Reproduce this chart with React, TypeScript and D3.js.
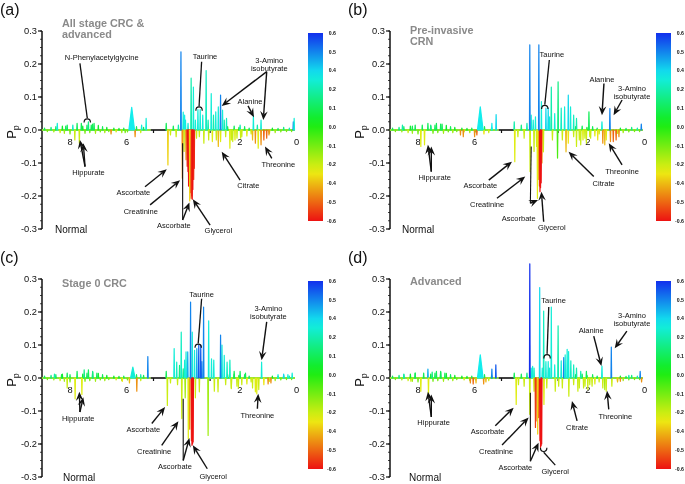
import * as d3 from "d3";

// [ppm, loading (Pp), correlation, half width in ppm (optional)]
type Peak = [number, number, number, number?];
type Mark = [number, number, number, number, string];
type Note = { text: string[]; at: [number, number]; marks: Mark[] };

const ppmTicks = [8, 6, 2, 0];
const ppmSmallTicks = [5, 3];
const loadingTicks = [0.3, 0.2, 0.1, 0, -0.1, -0.2, -0.3];
const barValues = [0.6, 0.5, 0.4, 0.2, 0.1, 0.0, -0.1, -0.2, -0.4, -0.5, -0.6];
const waterGap = [5.1, 4.55];

const baselineNoise: Peak[] = [
  [8.85, 0.006, 0.1], [8.75, -0.005, -0.1], [8.62, 0.008, 0.15], [8.52, -0.006, -0.15],
  [8.45, 0.01, 0.1], [8.3, -0.008, -0.2], [8.22, 0.012, 0.05], [8.15, -0.01, -0.15],
  [8.05, 0.015, 0.1], [7.95, -0.012, -0.1], [7.5, 0.012, 0.05], [7.42, -0.01, -0.1],
  [7.35, 0.015, 0.1], [7.25, -0.008, -0.1], [7.15, 0.018, 0.1], [7.05, -0.01, -0.15],
  [6.95, 0.014, 0.05], [6.88, -0.006, -0.1], [6.8, 0.01, 0.1], [6.72, -0.008, -0.15],
  [6.65, 0.008, 0.05], [6.58, -0.005, -0.1], [6.4, 0.006, 0.05], [6.32, -0.006, -0.2],
  [6.22, 0.005, 0.05], [6.12, -0.008, -0.15], [6.05, 0.006, 0.1], [5.92, -0.006, -0.1],
  [5.6, 0.01, 0.1], [5.45, -0.008, -0.2], [5.35, 0.008, 0.1],
  [2.45, -0.02, -0.2], [2.38, 0.01, 0.05], [2.25, -0.03, -0.2], [2.15, 0.012, 0.1],
  [2.05, -0.025, -0.2], [1.98, 0.008, 0.05], [1.88, -0.02, -0.2], [1.78, 0.01, 0.1],
  [1.7, -0.018, -0.25], [1.62, 0.006, 0.1], [1.55, -0.012, -0.2], [0.9, -0.01, -0.2],
  [0.8, 0.006, 0.05], [0.7, -0.008, -0.15], [0.6, 0.005, 0.1], [0.5, -0.006, -0.1],
  [0.4, 0.008, 0.15], [0.3, -0.005, -0.1], [0.2, 0.006, 0.2], [0.12, -0.005, -0.1],
];

const peaksA: Peak[] = [
  [8.4, 0.02, 0.3], [8.1, 0.012, 0.1], [7.85, 0.015, 0.25], [7.78, -0.03, -0.2],
  [7.7, 0.02, 0.1], [7.62, -0.04, -0.2], [7.55, 0.02, 0.1], [7.3, 0.025, 0.15],
  [7.2, 0.015, 0.1], [7.1, 0.02, 0.1], [6.5, -0.012, -0.45], [6.0, -0.008, -0.1],
  [5.77, 0.069, 0.35, 0.1], [5.65, -0.02, -0.45], [5.42, 0.015, 0.3], [5.26, 0.035, 0.3],
  [4.55, 0.02, 0.1], [4.49, -0.106, -0.35], [4.4, -0.015, -0.2], [4.3, 0.012, 0.1],
  [4.2, -0.02, -0.2], [4.12, 0.015, 0.2], [4.03, 0.237, 0.5], [3.98, -0.146, -0.45],
  [3.95, 0.054, 0.3], [3.92, -0.065, -0.2], [3.9, 0.045, 0.35], [3.87, 0.03, 0.3],
  [3.85, -0.09, -0.45], [3.81, -0.11, -0.55], [3.78, 0.02, 0.3], [3.78, -0.126, -0.6],
  [3.76, -0.17, -0.6], [3.74, -0.16, -0.6], [3.72, -0.215, -0.35], [3.7, -0.19, -0.6],
  [3.67, 0.157, 0.2], [3.67, -0.207, -0.55], [3.65, -0.2, -0.6], [3.63, -0.21, -0.6],
  [3.61, -0.18, -0.6], [3.59, 0.13, 0.3], [3.58, -0.15, -0.55], [3.56, -0.116, -0.6],
  [3.52, 0.03, 0.3], [3.48, -0.025, -0.2],
  [3.43, 0.062, 0.3], [3.38, -0.02, -0.2], [3.35, 0.062, 0.3], [3.26, 0.045, 0.3],
  [3.22, -0.04, -0.2], [3.14, 0.18, 0.25], [3.07, 0.03, 0.2], [3.05, -0.03, -0.2],
  [2.96, 0.11, 0.3], [2.92, -0.035, -0.25], [2.88, 0.045, 0.2], [2.8, 0.055, 0.3],
  [2.78, -0.03, -0.2], [2.71, 0.07, 0.3], [2.71, -0.05, -0.4], [2.63, 0.106, 0.5],
  [2.63, -0.035, -0.25], [2.56, 0.06, 0.3], [2.5, 0.03, 0.2], [2.42, 0.035, 0.25],
  [2.3, -0.055, -0.25], [2.2, -0.035, -0.2], [2.12, -0.03, -0.25], [1.94, 0.015, 0.2],
  [1.92, -0.025, -0.2], [1.5, -0.03, -0.4], [1.47, 0.043, 0.3], [1.4, -0.04, -0.45],
  [1.33, 0.015, 0.2], [1.3, -0.055, -0.25], [1.2, 0.03, 0.3], [1.2, -0.045, -0.45],
  [1.1, -0.03, -0.5], [1.0, -0.025, -0.5], [0.92, -0.015, -0.45], [0.06, 0.025, 0.5],
  [0.03, 0.035, 0.3],
];

const peaksB: Peak[] = [
  [8.5, 0.015, 0.2], [8.15, 0.012, 0.1], [7.85, -0.05, -0.25], [7.8, 0.015, 0.1],
  [7.72, -0.045, -0.25], [7.6, 0.02, 0.1], [7.5, 0.015, 0.15], [7.3, 0.02, 0.1],
  [7.1, 0.018, 0.1], [6.45, -0.015, -0.45], [6.35, -0.02, -0.45], [5.95, -0.02, -0.45],
  [5.87, -0.015, -0.5], [5.75, 0.07, 0.35, 0.1], [5.62, -0.012, -0.3], [5.34, 0.02, 0.35],
  [5.19, 0.047, 0.4], [4.55, 0.025, 0.2], [4.53, -0.096, -0.25], [4.42, -0.02, -0.2],
  [4.3, 0.015, 0.15], [4.2, -0.025, -0.2], [4.1, 0.02, 0.2], [4.0, 0.258, 0.5],
  [3.99, -0.126, -0.2], [3.95, 0.045, 0.3], [3.88, 0.03, 0.3], [3.85, -0.065, -0.2],
  [3.8, 0.04, 0.3], [3.76, -0.05, -0.2], [3.73, -0.207, -0.25], [3.68, 0.258, 0.5],
  [3.68, -0.15, -0.45], [3.66, -0.17, -0.5], [3.64, -0.187, -0.6], [3.62, -0.175, -0.6],
  [3.6, -0.16, -0.6], [3.59, 0.086, 0.3],
  [3.57, -0.1, -0.45], [3.52, -0.066, -0.2], [3.43, 0.066, 0.4], [3.35, 0.066, 0.4],
  [3.3, 0.04, 0.3], [3.24, 0.13, 0.2], [3.2, -0.03, -0.2], [3.12, 0.05, 0.3],
  [3.0, 0.146, 0.15], [3.02, -0.085, -0.05], [2.89, 0.066, 0.25], [2.85, -0.03, -0.2],
  [2.77, 0.07, 0.3], [2.72, -0.066, -0.4], [2.64, 0.106, 0.4], [2.64, -0.04, -0.3],
  [2.56, 0.07, 0.3], [2.45, 0.045, 0.25], [2.35, 0.035, 0.2], [2.35, -0.05, -0.2],
  [2.2, -0.045, -0.2], [2.12, -0.03, -0.25], [2.0, -0.04, -0.2], [1.91, 0.055, 0.1],
  [1.85, -0.025, -0.2], [1.6, -0.03, -0.3], [1.45, 0.025, 0.3], [1.42, -0.04, -0.45],
  [1.35, -0.045, -0.4], [1.3, -0.03, -0.25], [1.17, 0.065, 0.5], [1.15, -0.035, -0.45],
  [1.05, -0.035, -0.5], [0.95, -0.03, -0.5], [0.85, -0.02, -0.45], [0.06, 0.018, 0.5],
];

const peaksC: Peak[] = [
  [8.5, 0.012, 0.2], [8.25, 0.01, 0.1], [8.05, -0.03, -0.2], [7.95, 0.01, 0.1],
  [7.77, -0.063, -0.25], [7.7, 0.02, 0.1], [7.53, -0.05, -0.25], [7.45, 0.025, 0.15],
  [7.3, 0.025, 0.1], [7.15, 0.02, 0.15], [7.0, 0.015, 0.1], [6.1, -0.01, -0.3],
  [5.85, -0.015, -0.4], [5.73, 0.033, 0.3, 0.08], [5.59, -0.04, -0.45], [5.45, 0.01, 0.2],
  [5.2, 0.065, 0.5], [4.55, 0.02, 0.1], [4.51, -0.083, -0.2], [4.4, -0.015, -0.2],
  [4.27, 0.089, 0.3], [4.18, 0.048, 0.25], [4.15, -0.02, -0.2], [4.08, 0.038, 0.15],
  [4.02, 0.139, 0.25], [4.0, -0.123, -0.2], [3.95, 0.028, 0.15], [3.9, 0.054, 0.3],
  [3.88, -0.06, -0.15], [3.85, 0.079, 0.3], [3.79, 0.079, 0.45], [3.77, -0.184, -0.25],
  [3.72, -0.155, -0.45], [3.69, 0.23, 0.5], [3.66, -0.19, -0.55], [3.64, -0.204, -0.6],
  [3.63, 0.139, 0.3], [3.62, -0.2, -0.6],
  [3.6, -0.194, -0.6], [3.55, 0.084, 0.3], [3.52, -0.06, -0.2], [3.47, 0.089, 0.45],
  [3.4, 0.1, 0.55], [3.38, -0.042, -0.2], [3.33, 0.1, 0.55], [3.29, 0.05, 0.5],
  [3.23, 0.215, 0.5], [3.07, -0.174, -0.15], [3.05, 0.173, 0.3], [2.95, 0.058, 0.3],
  [2.87, 0.054, 0.3], [2.85, -0.04, -0.2], [2.72, -0.042, -0.2], [2.63, 0.13, 0.5],
  [2.58, 0.1, 0.3], [2.5, 0.069, 0.3], [2.4, 0.048, 0.25], [2.3, 0.054, 0.25],
  [2.25, -0.032, -0.2], [2.15, 0.02, 0.1], [2.0, -0.03, -0.2], [1.94, 0.02, 0.1],
  [1.75, 0.015, 0.1], [1.5, -0.03, -0.2], [1.4, -0.042, -0.25], [1.35, -0.048, -0.25],
  [1.28, -0.035, -0.2], [1.18, 0.048, 0.3], [1.1, -0.02, -0.3], [0.95, -0.018, -0.45],
  [0.85, -0.015, -0.45], [0.6, 0.01, 0.3], [0.4, 0.012, 0.4], [0.25, 0.01, 0.3],
  [0.1, 0.015, 0.3],
];

const peaksD: Peak[] = [
  [8.45, 0.012, 0.2], [8.2, -0.01, -0.2], [8.05, 0.015, 0.1], [7.85, -0.04, -0.25],
  [7.75, 0.015, 0.1], [7.6, 0.027, 0.45], [7.58, -0.05, -0.25], [7.45, 0.018, 0.15],
  [7.3, 0.02, 0.1], [7.15, 0.02, 0.1], [7.0, 0.015, 0.1], [6.1, -0.015, -0.45],
  [6.0, -0.018, -0.5], [5.9, -0.015, -0.4], [5.75, 0.07, 0.35, 0.1], [5.63, -0.018, -0.45],
  [5.55, -0.012, -0.4], [5.34, 0.027, 0.5], [5.2, 0.04, 0.55], [4.55, 0.015, 0.1],
  [4.48, -0.08, -0.25], [4.4, -0.02, -0.2], [4.3, 0.012, 0.1], [4.2, -0.025, -0.2],
  [4.1, 0.015, 0.15], [4.0, 0.346, 0.6], [4.0, -0.11, -0.2], [3.95, 0.03, 0.3],
  [3.9, 0.035, 0.3], [3.85, 0.03, 0.25], [3.85, -0.04, -0.2], [3.8, -0.15, -0.55],
  [3.78, -0.13, -0.5], [3.72, -0.17, -0.35], [3.69, -0.12, -0.55], [3.65, 0.274, 0.4],
  [3.64, -0.19, -0.6], [3.62, -0.21, -0.6], [3.6, -0.205, -0.6],
  [3.58, -0.2, -0.6], [3.56, 0.03, 0.3], [3.51, 0.203, 0.25], [3.5, -0.08, -0.25],
  [3.43, 0.05, 0.3], [3.4, -0.03, -0.2], [3.35, 0.05, 0.3], [3.3, 0.03, 0.3],
  [3.24, 0.215, 0.3], [3.12, 0.04, 0.3], [3.1, -0.04, -0.2], [3.0, 0.158, 0.2],
  [2.98, -0.025, -0.2], [2.89, 0.052, 0.3], [2.85, -0.03, -0.2], [2.8, 0.062, 0.5],
  [2.75, 0.07, 0.3], [2.68, 0.087, 0.3], [2.63, 0.08, 0.3], [2.62, -0.055, -0.2],
  [2.55, 0.052, 0.25], [2.45, 0.04, 0.25], [2.35, 0.03, 0.2], [2.3, -0.04, -0.2],
  [2.2, 0.02, 0.2], [2.1, -0.03, -0.2], [2.0, 0.02, 0.1], [1.95, -0.035, -0.2],
  [1.8, -0.025, -0.2], [1.45, 0.036, 0.3], [1.42, -0.03, -0.2], [1.35, -0.035, -0.15],
  [1.3, -0.04, -0.2], [1.12, 0.094, 0.5], [1.1, -0.025, -0.2], [0.9, -0.012, -0.4],
  [0.8, -0.01, -0.45], [0.5, 0.008, 0.2], [0.1, 0.02, 0.5], [0.05, -0.012, -0.45],
];

// label text, centre of label (ppm, Pp), pointer lines (from ppm, Pp -> to ppm, Pp)
const notesA: Note[] = [
  { text: ["N-Phenylacetylglycine"], at: [6.83, 0.22], marks: [[7.6, 0.202, 7.34, 0.03, "bracket"]] },
  { text: ["Taurine"], at: [3.18, 0.222], marks: [[3.3, 0.207, 3.39, 0.066, "bracket"]] },
  { text: ["3-Amino", "isobutyrate"], at: [0.91, 0.198], marks: [[1.0, 0.177, 2.59, 0.073, "arrow"], [1.0, 0.177, 1.12, 0.03, "arrow"]] },
  { text: ["Alanine"], at: [1.59, 0.086], marks: [[1.66, 0.073, 1.45, 0.039, "arrow"]] },
  { text: ["Hippurate"], at: [7.3, -0.128], marks: [[7.42, -0.111, 7.6, -0.03, "arrow"], [7.42, -0.111, 7.48, -0.04, "arrow"]] },
  { text: ["Ascorbate"], at: [5.71, -0.19], marks: [[5.3, -0.172, 4.53, -0.119, "arrow"]] },
  { text: ["Creatinine"], at: [5.45, -0.245], marks: [[5.12, -0.227, 4.06, -0.152, "arrow"]] },
  { text: ["Ascorbate"], at: [4.28, -0.29], marks: [[3.97, -0.273, 3.97, -0.04, "line"], [3.97, -0.273, 3.73, -0.22, "arrow"]] },
  { text: ["Glycerol"], at: [2.71, -0.305], marks: [[3.0, -0.288, 3.61, -0.21, "arrow"]] },
  { text: ["Citrate"], at: [1.65, -0.167], marks: [[1.94, -0.152, 2.59, -0.066, "arrow"]] },
  { text: ["Threonine"], at: [0.59, -0.103], marks: [[0.82, -0.086, 1.06, -0.05, "arrow"]] },
];

const notesB: Note[] = [
  { text: ["Taurine"], at: [3.22, 0.23], marks: [[3.31, 0.212, 3.47, 0.071, "bracket"]] },
  { text: ["Alanine"], at: [1.45, 0.155], marks: [[1.38, 0.141, 1.45, 0.045, "arrow"]] },
  { text: ["3-Amino", "isobutyrate"], at: [0.39, 0.114], marks: [[0.74, 0.091, 1.04, 0.045, "arrow"]] },
  { text: ["Hippurate"], at: [7.36, -0.144], marks: [[7.48, -0.126, 7.6, -0.045, "arrow"], [7.48, -0.126, 7.48, -0.05, "arrow"]] },
  { text: ["Ascorbate"], at: [5.75, -0.167], marks: [[5.45, -0.152, 4.63, -0.096, "arrow"]] },
  { text: ["Creatinine"], at: [5.51, -0.224], marks: [[5.16, -0.207, 4.16, -0.141, "arrow"]] },
  { text: ["Ascorbate"], at: [4.39, -0.268], marks: [[3.98, -0.222, 3.95, -0.05, "line"], [3.98, -0.222, 3.71, -0.212, "arrow"]] },
  { text: ["Glycerol"], at: [3.22, -0.295], marks: [[3.51, -0.278, 3.59, -0.187, "arrow"]] },
  { text: ["Citrate"], at: [1.39, -0.162], marks: [[1.74, -0.141, 2.63, -0.066, "arrow"]] },
  { text: ["Threonine"], at: [0.74, -0.126], marks: [[0.74, -0.106, 1.21, -0.04, "arrow"]] },
];

const notesC: Note[] = [
  { text: ["Taurine"], at: [3.3, 0.254], marks: [[3.3, 0.24, 3.42, 0.099, "bracket"]] },
  { text: ["3-Amino", "isobutyrate"], at: [0.94, 0.2], marks: [[1.0, 0.17, 1.18, 0.054, "arrow"]] },
  { text: ["Hippurate"], at: [7.66, -0.121], marks: [[7.6, -0.103, 7.62, -0.042, "arrow"], [7.6, -0.103, 7.48, -0.058, "arrow"]] },
  { text: ["Ascorbate"], at: [5.36, -0.155], marks: [[5.06, -0.138, 4.59, -0.088, "arrow"]] },
  { text: ["Creatinine"], at: [4.98, -0.222], marks: [[4.71, -0.204, 4.12, -0.131, "arrow"]] },
  { text: ["Ascorbate"], at: [4.24, -0.267], marks: [[3.95, -0.25, 3.95, -0.063, "line"], [3.95, -0.25, 3.73, -0.182, "arrow"]] },
  { text: ["Glycerol"], at: [2.89, -0.297], marks: [[3.1, -0.275, 3.61, -0.204, "arrow"]] },
  { text: ["Threonine"], at: [1.33, -0.113], marks: [[1.33, -0.093, 1.3, -0.048, "arrow"]] },
];

const notesD: Note[] = [
  { text: ["Taurine"], at: [3.16, 0.235], marks: [[3.33, 0.215, 3.39, 0.067, "bracket"]] },
  { text: ["Alanine"], at: [1.83, 0.145], marks: [[1.74, 0.127, 1.47, 0.036, "arrow"]] },
  { text: ["3-Amino", "isobutyrate"], at: [0.39, 0.178], marks: [[0.57, 0.142, 1.0, 0.09, "arrow"]] },
  { text: ["Hippurate"], at: [7.4, -0.135], marks: [[7.48, -0.118, 7.6, -0.042, "arrow"], [7.48, -0.118, 7.48, -0.05, "arrow"]] },
  { text: ["Ascorbate"], at: [5.49, -0.161], marks: [[5.22, -0.145, 4.57, -0.09, "arrow"]] },
  { text: ["Creatinine"], at: [5.19, -0.223], marks: [[4.98, -0.203, 4.04, -0.12, "arrow"]] },
  { text: ["Ascorbate"], at: [4.51, -0.27], marks: [[3.98, -0.252, 3.98, -0.045, "line"], [3.98, -0.252, 3.69, -0.196, "arrow"]] },
  { text: ["Glycerol"], at: [3.1, -0.282], marks: [[3.1, -0.264, 3.51, -0.219, "cup"]] },
  { text: ["Citrate"], at: [2.33, -0.15], marks: [[2.33, -0.13, 2.51, -0.07, "arrow"]] },
  { text: ["Threonine"], at: [0.98, -0.115], marks: [[1.21, -0.095, 1.27, -0.039, "arrow"]] },
];

const FONT = "'Liberation Sans', Arial, Helvetica, sans-serif";

const barPos = d3
  .scaleLinear()
  .domain(barValues)
  .range(barValues.map((_, i) => i / (barValues.length - 1)))
  .clamp(true);

const corrColor = (c: number) => {
  const t = barPos(c);
  return d3.hsl(232 * (1 - t), 0.86, 0.5).formatHex();
};

function arrowHead(x1: number, y1: number, x2: number, y2: number) {
  const a = Math.atan2(y2 - y1, x2 - x1);
  const len = 9, half = 3.8;
  const cx = Math.cos(a), sx = Math.sin(a);
  const bx = x2 - len * cx, by = y2 - len * sx;
  const mx = x2 - len * 0.62 * cx, my = y2 - len * 0.62 * sx;
  return {
    d: `M${x2},${y2}L${bx - sx * half},${by + cx * half}L${mx},${my}L${bx + sx * half},${by - cx * half}Z`,
    mx,
    my,
  };
}

function Panel({ dx, dy, tag, title, titleY, normalX, peaks, notes }: any) {
  const x = d3.scaleLinear().domain([9, 0]).range([40.3, 295]);
  const y = d3.scaleLinear().domain([-0.3, 0.3]).range([229, 31]);
  const y0 = y(0);
  const minor = d3.range(-0.3, 0.3001, 0.025);
  const all: Peak[] = [...baselineNoise, ...peaks].sort((a, b) => Math.abs(a[1]) - Math.abs(b[1]));
  const peakPath = (p: Peak) => {
    const w = p[3] ?? 0.012;
    return `M${x(p[0] + w)},${y0}L${x(p[0])},${y(p[1])}L${x(p[0] - w)},${y0}Z`;
  };
  const barTop = 33, barBottom = 221;
  const barStep = (barBottom - barTop) / (barValues.length - 1);

  return (
    <g transform={`translate(${dx},${dy})`} fontFamily={FONT}>
      <text x={0} y={15} fontSize={16} fill="#111">({tag})</text>
      {title.map((t: string, i: number) => (
        <text key={t} x={62} y={titleY + i * 11} fontSize={10.8} fontWeight="bold" fill="#8a8a8a">{t}</text>
      ))}

      {/* y axis */}
      <line x1={42} x2={42} y1={y(0.3)} y2={y(-0.3)} stroke="#111" strokeWidth={1.5} />
      {minor.map((v) => (
        <line key={v} x1={40} x2={42} y1={y(v)} y2={y(v)} stroke="#111" strokeWidth={0.8} />
      ))}
      {loadingTicks.map((v) => (
        <g key={v}>
          <line x1={38} x2={42} y1={y(v)} y2={y(v)} stroke="#111" strokeWidth={1.2} />
          <text x={37} y={y(v) + 3.3} fontSize={9.3} textAnchor="end" fill="#111">{v.toFixed(1)}</text>
        </g>
      ))}
      <text transform={`translate(16,${y0 + 2}) rotate(-90)`} fontSize={13} textAnchor="middle" fill="#111">
        P<tspan fontSize={9} dy={3}>p</tspan>
      </text>

      {/* x tick labels */}
      {ppmTicks.map((v) => (
        <text key={v} x={x(v) + 1.5} y={y0 + 14.5} fontSize={9.3} textAnchor="middle" fill="#111">{v}</text>
      ))}
      {ppmSmallTicks.map((v) => (
        <line key={v} x1={x(v)} x2={x(v)} y1={y0} y2={y0 + 3} stroke="#111" strokeWidth={1.2} />
      ))}

      {/* spectrum */}
      <path d={`M${x(8.95)},${y0}H${x(waterGap[0])}M${x(waterGap[1])},${y0}H${x(0)}`} stroke="#8ee23a" strokeWidth={2} />
      <path d={`M${x(waterGap[0])},${y0}H${x(waterGap[1])}`} stroke="#111" strokeWidth={1.6} />
      {all.map((p, i) => {
        const c = corrColor(p[2]);
        return <path key={i} d={peakPath(p)} fill={c} stroke={c} strokeWidth={1.2} strokeLinejoin="round" />;
      })}

      {/* annotations */}
      {notes.map((n: Note, i: number) => (
        <g key={i}>
          {n.marks.map((m, j) => {
            const x1 = x(m[0]), y1 = y(m[1]), x2 = x(m[2]), y2 = y(m[3]);
            if (m[4] === "arrow") {
              const h = arrowHead(x1, y1, x2, y2);
              return (
                <g key={j}>
                  <line x1={x1} y1={y1} x2={h.mx} y2={h.my} stroke="#111" strokeWidth={1.4} />
                  <path d={h.d} fill="#111" />
                </g>
              );
            }
            if (m[4] === "bracket") {
              return (
                <g key={j}>
                  <line x1={x1} y1={y1} x2={x2} y2={y2 - 2} stroke="#111" strokeWidth={1.3} />
                  <path d={`M${x2 - 3.2},${y2 + 2.5}C${x2 - 3.2},${y2 - 2.5} ${x2 + 3.2},${y2 - 2.5} ${x2 + 3.2},${y2 + 2.5}`} fill="none" stroke="#111" strokeWidth={1.2} />
                </g>
              );
            }
            if (m[4] === "cup") {
              return (
                <g key={j}>
                  <line x1={x1} y1={y1} x2={x2} y2={y2 + 2} stroke="#111" strokeWidth={1.3} />
                  <path d={`M${x2 - 3.2},${y2 - 2.5}C${x2 - 3.2},${y2 + 2.5} ${x2 + 3.2},${y2 + 2.5} ${x2 + 3.2},${y2 - 2.5}`} fill="none" stroke="#111" strokeWidth={1.2} />
                </g>
              );
            }
            return <line key={j} x1={x1} y1={y1} x2={x2} y2={y2} stroke="#111" strokeWidth={1.1} />;
          })}
          <text x={x(n.at[0])} y={y(n.at[1]) + 2.7 - (n.text.length - 1) * 4} fontSize={7.5} textAnchor="middle" fill="#111">
            {n.text.map((t, k) => (
              <tspan key={k} x={x(n.at[0])} dy={k === 0 ? 0 : 8}>{t}</tspan>
            ))}
          </text>
        </g>
      ))}

      <text x={normalX} y={233} fontSize={10} fill="#111">Normal</text>

      {/* colour bar */}
      <rect x={308} y={barTop} width={15} height={barBottom - barTop} fill="url(#corrbar)" />
      {barValues.map((v, i) => (
        <text key={i} x={336} y={barTop + i * barStep + 1.8} fontSize={5.2} fontWeight="bold" textAnchor="end" fill="#111">
          {v.toFixed(1)}
        </text>
      ))}
    </g>
  );
}

export default function App() {
  const stops = d3.range(0, 1.0001, 0.05);
  return (
    <svg width={685} height={484} style={{ position: "absolute", left: 0, top: 0, background: "#fff" }}>
      <defs>
        <linearGradient id="corrbar" x1="0" x2="0" y1="0" y2="1">
          {stops.map((t) => (
            <stop key={t} offset={t} stopColor={corrColor(barPos.invert(t))} />
          ))}
        </linearGradient>
        {/* rasterise through a no-op filter so small text gets grey anti-aliasing */}
        <filter id="flat" filterUnits="userSpaceOnUse" x={0} y={0} width={685} height={484}>
          <feOffset dx={0} dy={0} />
        </filter>
      </defs>
      <g filter="url(#flat)">
        <rect width={685} height={484} fill="#fff" />
        <Panel dx={0} dy={0} tag="a" title={["All stage CRC &", "advanced"]} titleY={27} normalX={55} peaks={peaksA} notes={notesA} />
        <Panel dx={348} dy={0} tag="b" title={["Pre-invasive", "CRN"]} titleY={34} normalX={54} peaks={peaksB} notes={notesB} />
        <Panel dx={0} dy={248} tag="c" title={["Stage 0 CRC"]} titleY={39} normalX={63} peaks={peaksC} notes={notesC} />
        <Panel dx={348} dy={248} tag="d" title={["Advanced"]} titleY={37} normalX={61} peaks={peaksD} notes={notesD} />
      </g>
    </svg>
  );
}
